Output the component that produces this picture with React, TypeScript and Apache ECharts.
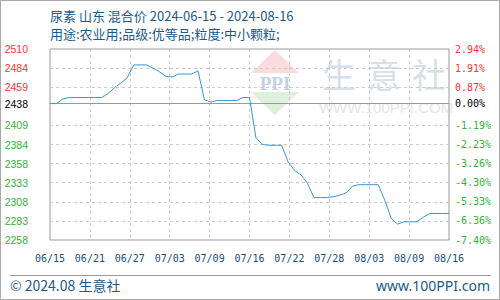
import React, { useEffect, useRef } from "react";
import * as echarts from "echarts";

const titleLine1 = "尿素 山东 混合价 2024-06-15 - 2024-08-16";
const titleLine2 = "用途:农业用;品级:优等品;粒度:中小颗粒;";
const footerLeft = "© 2024.08 生意社";
const footerRight = "www.100PPI.com";

const xTickLabels = ["06/15", "06/21", "06/27", "07/03", "07/09", "07/16", "07/22", "07/28", "08/03", "08/09", "08/16"];

const prices = [
  2438, 2438, 2444, 2446, 2446, 2446, 2446, 2446, 2446, 2451,
  2459, 2465, 2472, 2489, 2489, 2489, 2485, 2480, 2474, 2473,
  2477, 2477, 2477, 2481, 2443, 2440, 2442, 2442, 2442, 2442,
  2446, 2446, 2393, 2384, 2383, 2383, 2383, 2361, 2350, 2344,
  2333, 2314, 2314, 2314, 2315, 2317, 2320, 2329, 2331, 2331,
  2331, 2331, 2311, 2287, 2279, 2282, 2282, 2282, 2288, 2293,
  2293, 2293, 2293,
];

const baseValue = 2438;
const yMin = 2258;
const yMax = 2510;
const yTickValues = [2258, 2283.2, 2308.4, 2333.6, 2358.8, 2384, 2409.2, 2438, 2459.6, 2484.8, 2510];
const yTickLabels = ["2258", "2283", "2308", "2333", "2358", "2384", "2409", "2438", "2459", "2484", "2510"];
const pctTickLabels = ["-7.40%", "-6.36%", "-5.33%", "-4.30%", "-3.26%", "-2.23%", "-1.19%", "0.00%", "0.87%", "1.91%", "2.94%"];
const gridValues = [2283.2, 2308.4, 2333.6, 2358.8, 2384, 2409.2, 2459.6, 2484.8];

const RED = "#ff3333";
const GREEN = "#33b333";
const BLUE_TEXT = "#1c5a8a";

function nearestIndex(v: number) {
  let best = 0;
  let bd = Infinity;
  yTickValues.forEach((t, i) => {
    const d = Math.abs(t - v);
    if (d < bd) {
      bd = d;
      best = i;
    }
  });
  return best;
}

function labelColor(v: any) {
  const n = yTickValues[nearestIndex(Number(v))];
  if (n > baseValue) return RED;
  if (n < baseValue) return GREEN;
  return "#000";
}

export default function App() {
  const ref = useRef<HTMLDivElement>(null);
  useEffect(() => {
    if (!ref.current) return;
    const chart = echarts.init(ref.current, undefined, { renderer: "svg" });
    const xStep = (prices.length - 1) / (xTickLabels.length - 1);
    chart.setOption({
      animation: false,
      backgroundColor: "#fff",
      grid: {
        left: 50,
        right: 51,
        top: 49,
        bottom: 60,
        show: true,
        borderColor: "#999",
        borderWidth: 1,
        outerBoundsMode: "none",
        containLabel: false,
      },
      xAxis: {
        type: "value",
        min: 0,
        max: prices.length - 1,
        interval: xStep,
        axisLine: { show: false },
        axisTick: { show: false },
        splitLine: { show: true, lineStyle: { color: "#ccc", type: [3, 3], width: 1 } },
        axisLabel: {
          margin: 13,
          fontFamily: "DejaVu Sans Mono",
          fontSize: 10,
          color: "#1b4f80",
          formatter: (v: number) => xTickLabels[Math.round(v / xStep)] ?? "",
        },
      },
      yAxis: [
        {
          type: "value",
          position: "left",
          min: yMin,
          max: yMax,
          axisLine: { show: false },
          axisTick: { show: false },
          splitLine: { show: false },
          axisLabel: {
            customValues: yTickValues,
            margin: 22,
            fontFamily: "Liberation Sans",
            fontSize: 10.5,
            color: (v: any) => labelColor(v),
            formatter: (v: number) => yTickLabels[nearestIndex(Number(v))],
          },
        },
        {
          type: "value",
          position: "right",
          min: yMin,
          max: yMax,
          axisLine: { show: false },
          axisTick: { show: false },
          splitLine: { show: false },
          axisLabel: {
            customValues: yTickValues,
            margin: 6,
            fontFamily: "DejaVu Sans Mono",
            fontSize: 10,
            color: (v: any) => labelColor(v),
            formatter: (v: number) => pctTickLabels[nearestIndex(Number(v))],
          },
        },
      ],
      series: [
        {
          type: "line",
          yAxisIndex: 0,
          data: prices.map((p, i) => [i, p]),
          symbol: "none",
          lineStyle: { color: "#3797d8", width: 1 },
          z: 5,
          markLine: {
            silent: true,
            symbol: ["none", "none"],
            label: { show: false },
            z: 1,
            data: [
              ...gridValues.map((v) => ({ yAxis: v, lineStyle: { color: "#ccc", type: [3, 3], width: 1 } })),
              { yAxis: baseValue, lineStyle: { color: "#999", type: "solid", width: 1 } },
            ],
          },
        },
      ],
      graphic: [
        {
          type: "rect",
          silent: true,
          z: 100,
          shape: { x: 0.5, y: 0.5, width: 499, height: 299 },
          style: { fill: "none", stroke: "#aaa", lineWidth: 1 },
        },
        {
          type: "text",
          x: 50,
          y: 15,
          style: { text: titleLine1, font: '13px "Noto Sans CJK SC"', fill: BLUE_TEXT, textVerticalAlign: "middle" },
        },
        {
          type: "text",
          x: 50,
          y: 33,
          style: { text: titleLine2, font: '13px "Noto Sans CJK SC"', fill: BLUE_TEXT, textVerticalAlign: "middle" },
        },
        {
          type: "polygon",
          z: -10,
          silent: true,
          shape: { points: [[275, 50], [251, 73], [299, 73]] },
          style: { fill: "#fadcdc" },
        },
        {
          type: "text",
          z: -10,
          silent: true,
          x: 275,
          y: 83,
          style: { text: "PPI", font: 'bold 19px "Liberation Serif"', fill: "#c3cfe6", textAlign: "center", textVerticalAlign: "middle" },
        },
        {
          type: "polygon",
          z: -10,
          silent: true,
          shape: { points: [[251, 92], [299, 92], [275, 115]] },
          style: { fill: "#dcf0dc" },
        },
        ...["生", "意", "社"].map((c, i) => ({
          type: "text",
          z: -10,
          silent: true,
          x: 339 + i * 45,
          y: 73,
          style: { text: c, font: '34px "Noto Sans CJK SC"', fill: "#d9dfea", textAlign: "center", textVerticalAlign: "middle" },
        })),
        {
          type: "text",
          z: -10,
          silent: true,
          x: 386,
          y: 107,
          style: { text: "WWW.100PPI.COM", font: '15px "Liberation Sans"', fill: "#e6e6e6", textAlign: "center", textVerticalAlign: "middle" },
        },
        {
          type: "line",
          silent: true,
          shape: { x1: 10, y1: 275.5, x2: 491, y2: 275.5 },
          style: { stroke: "#999", lineWidth: 1 },
        },
        {
          type: "text",
          x: 10,
          y: 285,
          style: { text: footerLeft, font: '14px "Noto Sans CJK SC"', fill: BLUE_TEXT, textVerticalAlign: "middle" },
        },
        {
          type: "text",
          x: 490,
          y: 285,
          style: { text: footerRight, font: '14px "Noto Sans"', fill: BLUE_TEXT, textAlign: "right", textVerticalAlign: "middle" },
        },
      ],
    });
    return () => chart.dispose();
  }, []);
  return (
    <div
      ref={ref}
      style={{ position: "fixed", left: 0, top: 0, width: 500, height: 300 }}
    />
  );
}
